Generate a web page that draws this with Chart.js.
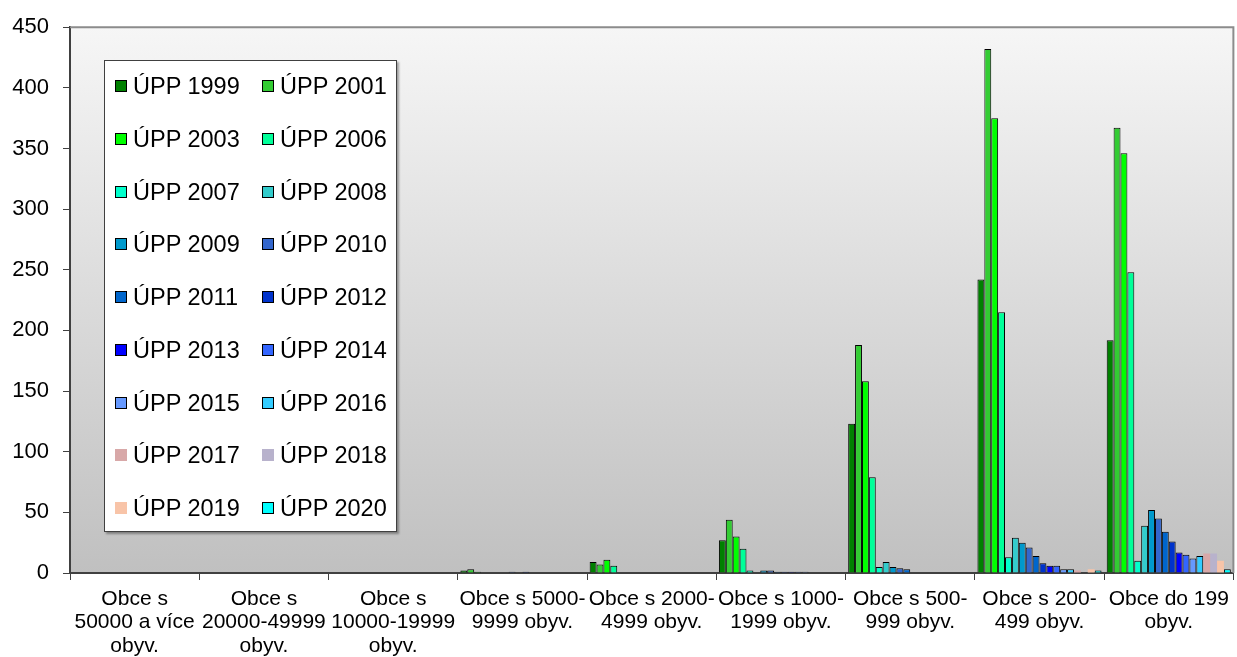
<!DOCTYPE html>
<html>
<head>
<meta charset="utf-8">
<script src="https://cdn.jsdelivr.net/npm/chart.js@4/dist/chart.umd.min.js"></script>
<style>
  html, body { margin: 0; padding: 0; background: #fff; }
  #wrap { position: relative; width: 1237px; height: 657px; font-family: "Liberation Sans", Arial, sans-serif; }
  #legend { position: absolute; left: 104px; top: 60px; width: 293px; height: 472px; background: #fff;
            border: 1px solid #404040; box-shadow: 2px 2px 2px rgba(0,0,0,0.35); box-sizing: border-box; }
  .item { position: absolute; height: 30px; line-height: 30px; font-size: 23.5px; color: #000; white-space: nowrap; }
  .sw { position: absolute; left: 0; top: 9px; width: 12px; height: 12px; box-sizing: border-box; }
  .txt { position: absolute; left: 18px; top: 0; }
</style>
</head>
<body>
<div id="wrap">
  <canvas id="c" width="1237" height="657"></canvas>
  <div id="legend"></div>
</div>
<script>
const categories = [
  ["Obce s", "50000 a více", "obyv."],
  ["Obce s", "20000-49999", "obyv."],
  ["Obce s", "10000-19999", "obyv."],
  ["Obce s 5000-", "9999 obyv."],
  ["Obce s 2000-", "4999 obyv."],
  ["Obce s 1000-", "1999 obyv."],
  ["Obce s 500-", "999 obyv."],
  ["Obce s 200-", "499 obyv."],
  ["Obce do 199", "obyv."]
];
const seriesNames = ["ÚPP 1999","ÚPP 2001","ÚPP 2003","ÚPP 2006","ÚPP 2007","ÚPP 2008","ÚPP 2009","ÚPP 2010","ÚPP 2011","ÚPP 2012","ÚPP 2013","ÚPP 2014","ÚPP 2015","ÚPP 2016","ÚPP 2017","ÚPP 2018","ÚPP 2019","ÚPP 2020"];
const upp1999 = [0,0,0,2,9,27,123,242,192];
const upp2001 = [0,0,0,3,7,44,188,432,367];
const upp2003 = [0,0,0,1,11,30,158,375,346];
const upp2006 = [0,0,0,0,6,20,79,215,248];
const upp2007 = [0,0,0,0,0,2,5,13,10];
const upp2008 = [0,0,0,0,0,0,9,29,39];
const upp2009 = [0,0,0,0,0,2,5,25,52];
const upp2010 = [0,0,0,1,0,2,4,21,45];
const upp2011 = [0,0,0,0,0,1,3,14,34];
const upp2012 = [0,0,0,1,0,1,0,8,26];
const upp2013 = [0,0,0,0,0,1,0,6,17];
const upp2014 = [0,0,0,0,0,1,0,6,15];
const upp2015 = [0,0,0,0,0,1,0,3,12];
const upp2016 = [0,0,0,0,0,0,0,3,14];
const upp2017 = [0,0,0,0,0,0,0,2,16];
const upp2018 = [0,0,0,0,0,0,0,0,16];
const upp2019 = [0,0,0,0,0,0,0,3,10];
const upp2020 = [0,0,0,0,0,0,0,2,3];
const seriesValues = [upp1999,upp2001,upp2003,upp2006,upp2007,upp2008,upp2009,upp2010,upp2011,upp2012,upp2013,upp2014,upp2015,upp2016,upp2017,upp2018,upp2019,upp2020];
const yTicks = [0,50,100,150,200,250,300,350,400,450];

const fills = ["#008000","#33CC33","#00FF00","#00FF99","#00FFCC","#33CCCC","#0099CC","#3366CC","#0066CC","#0033CC","#0000FF","#3366FF","#6699FF","#33CCFF","#D8A8A8","#B8B2CC","#F8C4A8","#00FFFF"];
const hasBorder = [true,true,true,true,true,true,true,true,true,true,true,true,true,true,false,false,false,true];

const datasets = seriesNames.map((n, i) => ({
  label: n,
  data: seriesValues[i],
  backgroundColor: fills[i],
  borderColor: "#000000",
  borderWidth: (ctx) => (hasBorder[i] && ctx.raw) ? 1 : 0,
  borderSkipped: "start",
  categoryPercentage: 0.96,
  barPercentage: 1.0
}));

const bgPlugin = {
  id: "plotBg",
  beforeDraw(chart) {
    const { ctx, chartArea: a } = chart;
    const g = ctx.createLinearGradient(0, a.top, 0, a.bottom);
    g.addColorStop(0, "#F6F6F6");
    g.addColorStop(1, "#C0C0C0");
    ctx.save();
    ctx.fillStyle = g;
    ctx.fillRect(a.left, a.top, a.right - a.left, a.bottom - a.top);
    ctx.restore();
  },
  afterDraw(chart) {
    const { ctx, chartArea: a } = chart;
    ctx.save();
    ctx.strokeStyle = "#8C8C8C";
    ctx.lineWidth = 2;
    ctx.beginPath();
    ctx.moveTo(a.left, a.top);
    ctx.lineTo(a.right, a.top);
    ctx.lineTo(a.right, a.bottom);
    ctx.stroke();
    ctx.restore();
  }
};

Chart.defaults.font.family = "'Liberation Sans', Arial, sans-serif";
Chart.defaults.color = "#000";

const chart = new Chart(document.getElementById("c"), {
  type: "bar",
  data: { labels: categories, datasets },
  options: {
    responsive: false,
    animation: false,
    devicePixelRatio: 1,
    layout: { padding: { top: 23, right: 2, left: 0, bottom: 0 } },
    plugins: { legend: { display: false }, tooltip: { enabled: false } },
    scales: {
      x: {
        grid: { offset: true, drawOnChartArea: false, drawTicks: true, tickLength: 7, color: "#404040", lineWidth: 1 },
        border: { display: true, color: "#404040", width: 2 },
        ticks: { font: { size: 21, lineHeight: 1.1 }, color: "#000", autoSkip: false, maxRotation: 0, minRotation: 0, padding: 8 },
        afterFit(s) { s.height = 84; }
      },
      y: {
        min: 0, max: 450,
        afterBuildTicks(s) { s.ticks = yTicks.map(v => ({ value: v })); },
        grid: { drawOnChartArea: false, drawTicks: true, tickLength: 7, color: "#404040" },
        border: { display: true, color: "#404040", width: 2 },
        ticks: { font: { size: 22 }, color: "#000", padding: 14 },
        afterFit(s) { s.width = 70; }
      }
    }
  },
  plugins: [bgPlugin]
});

// HTML legend built from the chart's datasets
const leg = document.getElementById("legend");
chart.data.datasets.forEach((ds, i) => {
  const row = Math.floor(i / 2), col = i % 2;
  const it = document.createElement("div");
  it.className = "item";
  it.style.left = (col === 0 ? 10 : 157) + "px";
  it.style.top = (10 + row * 52.75) + "px";
  const sw = document.createElement("div");
  sw.className = "sw";
  sw.style.background = ds.backgroundColor;
  sw.style.border = hasBorder[i] ? "1px solid #000" : "none";
  const tx = document.createElement("span");
  tx.className = "txt";
  tx.textContent = ds.label;
  it.appendChild(sw); it.appendChild(tx);
  leg.appendChild(it);
});
</script>
</body>
</html>
